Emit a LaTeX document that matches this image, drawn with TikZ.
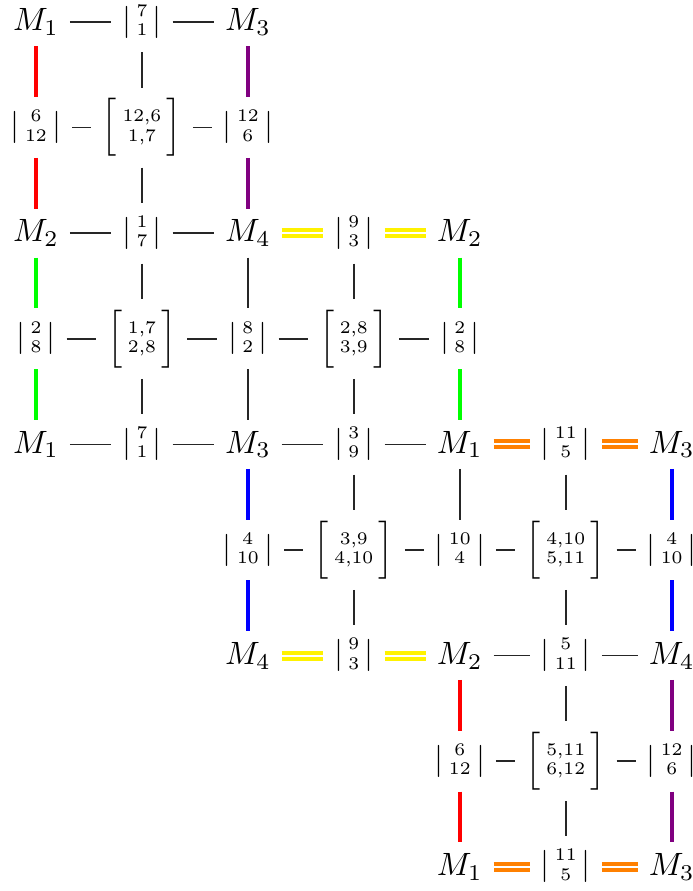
\documentclass[tikz,border=0pt]{standalone}
\usepackage{amsmath,amssymb}
\usepackage{xcolor}
\usepackage{tikz}
\usetikzlibrary{positioning}
\newcommand{\digitstack}[2]{\vcenter{\hbox{\fontsize{5.5}{6}\selectfont\begin{tabular}{@{}c@{}}#1\\#2\end{tabular}}}}
\newcommand{\barpair}[2]{\lvert\,\digitstack{#1}{#2}\,\rvert}
\newcommand{\brackpair}[2]{\Bigl[\,\digitstack{#1}{#2}\,\Bigr]}

\begin{document}
\begin{tikzpicture}[
    cell/.style={inner sep=3.2pt},
    link/.style={draw=black!85, line width=0.45pt},
    seam/.style={line width=1.25pt},
    glue/.style={line width=1.2pt, double=white, double distance=0.65pt}
]
\useasboundingbox (-0.392,0.240) rectangle (7.161,-9.472);

\node[cell] (m1a)   at (0,0)      {$M_1$};
\node[cell] (c71a)  at (1.155,0)  {$\barpair{7}{1}$};
\node[cell] (m3a)   at (2.31,0)   {$M_3$};

\node[cell] (c612a) at (0,-1.151)     {$\barpair{6}{12}$};
\node[cell] (s1)    at (1.155,-1.151) {$\brackpair{12,6}{1,7}$};
\node[cell] (c126a) at (2.31,-1.151)  {$\barpair{12}{6}$};

\node[cell] (m2a)   at (0,-2.302)     {$M_2$};
\node[cell] (c17)   at (1.155,-2.302) {$\barpair{1}{7}$};
\node[cell] (m4a)   at (2.31,-2.302)  {$M_4$};
\node[cell] (c93a)  at (3.465,-2.302) {$\barpair{9}{3}$};
\node[cell] (m2b)   at (4.62,-2.302)  {$M_2$};

\node[cell] (c28a)  at (0,-3.453)     {$\barpair{2}{8}$};
\node[cell] (s2)    at (1.155,-3.453) {$\brackpair{1,7}{2,8}$};
\node[cell] (c82)   at (2.31,-3.453)  {$\barpair{8}{2}$};
\node[cell] (s3)    at (3.465,-3.453) {$\brackpair{2,8}{3,9}$};
\node[cell] (c28b)  at (4.62,-3.453)  {$\barpair{2}{8}$};

\node[cell] (m1b)   at (0,-4.604)     {$M_1$};
\node[cell] (c71b)  at (1.155,-4.604) {$\barpair{7}{1}$};
\node[cell] (m3b)   at (2.31,-4.604)  {$M_3$};
\node[cell] (c39)   at (3.465,-4.604) {$\barpair{3}{9}$};
\node[cell] (m1c)   at (4.62,-4.604)  {$M_1$};
\node[cell] (c115a) at (5.775,-4.604) {$\barpair{11}{5}$};
\node[cell] (m3c)   at (6.93,-4.604)  {$M_3$};

\node[cell] (c410a) at (2.31,-5.755)  {$\barpair{4}{10}$};
\node[cell] (s4)    at (3.465,-5.755) {$\brackpair{3,9}{4,10}$};
\node[cell] (c104)  at (4.62,-5.755)  {$\barpair{10}{4}$};
\node[cell] (s5)    at (5.775,-5.755) {$\brackpair{4,10}{5,11}$};
\node[cell] (c410b) at (6.93,-5.755)  {$\barpair{4}{10}$};

\node[cell] (m4b)   at (2.31,-6.906)  {$M_4$};
\node[cell] (c93b)  at (3.465,-6.906) {$\barpair{9}{3}$};
\node[cell] (m2c)   at (4.62,-6.906)  {$M_2$};
\node[cell] (c511)  at (5.775,-6.906) {$\barpair{5}{11}$};
\node[cell] (m4c)   at (6.93,-6.906)  {$M_4$};

\node[cell] (c612b) at (4.62,-8.057)  {$\barpair{6}{12}$};
\node[cell] (s6)    at (5.775,-8.057) {$\brackpair{5,11}{6,12}$};
\node[cell] (c126b) at (6.93,-8.057)  {$\barpair{12}{6}$};

\node[cell] (m1d)   at (4.62,-9.208)  {$M_1$};
\node[cell] (c115b) at (5.775,-9.208) {$\barpair{11}{5}$};
\node[cell] (m3d)   at (6.93,-9.208)  {$M_3$};

% horizontal
\draw[link] (m1a) -- (c71a);
\draw[link] (c71a) -- (m3a);
\draw[link] (c612a) -- (s1);
\draw[link] (s1) -- (c126a);
\draw[link] (m2a) -- (c17);
\draw[link] (c17) -- (m4a);
\draw[glue, yellow] (m4a) -- (c93a);
\draw[glue, yellow] (c93a) -- (m2b);
\draw[link] (c28a) -- (s2);
\draw[link] (s2) -- (c82);
\draw[link] (c82) -- (s3);
\draw[link] (s3) -- (c28b);
\draw[link] (m1b) -- (c71b);
\draw[link] (c71b) -- (m3b);
\draw[link] (m3b) -- (c39);
\draw[link] (c39) -- (m1c);
\draw[glue, orange] (m1c) -- (c115a);
\draw[glue, orange] (c115a) -- (m3c);
\draw[link] (c410a) -- (s4);
\draw[link] (s4) -- (c104);
\draw[link] (c104) -- (s5);
\draw[link] (s5) -- (c410b);
\draw[glue, yellow] (m4b) -- (c93b);
\draw[glue, yellow] (c93b) -- (m2c);
\draw[link] (m2c) -- (c511);
\draw[link] (c511) -- (m4c);
\draw[link] (c612b) -- (s6);
\draw[link] (s6) -- (c126b);
\draw[glue, orange] (m1d) -- (c115b);
\draw[glue, orange] (c115b) -- (m3d);

% vertical
\draw[seam, red] (m1a) -- (c612a);
\draw[seam, red] (c612a) -- (m2a);
\draw[seam, green] (m2a) -- (c28a);
\draw[seam, green] (c28a) -- (m1b);
\draw[link] (c71a) -- (s1);
\draw[link] (s1) -- (c17);
\draw[link] (c17) -- (s2);
\draw[link] (s2) -- (c71b);
\draw[seam, violet] (m3a) -- (c126a);
\draw[seam, violet] (c126a) -- (m4a);
\draw[link] (m4a) -- (c82);
\draw[link] (c82) -- (m3b);
\draw[seam, blue] (m3b) -- (c410a);
\draw[seam, blue] (c410a) -- (m4b);
\draw[link] (c93a) -- (s3);
\draw[link] (s3) -- (c39);
\draw[link] (c39) -- (s4);
\draw[link] (s4) -- (c93b);
\draw[seam, green] (m2b) -- (c28b);
\draw[seam, green] (c28b) -- (m1c);
\draw[link] (m1c) -- (c104);
\draw[seam, red] (m2c) -- (c612b);
\draw[seam, red] (c612b) -- (m1d);
\draw[link] (c115a) -- (s5);
\draw[link] (s5) -- (c511);
\draw[link] (c511) -- (s6);
\draw[link] (s6) -- (c115b);
\draw[seam, blue] (m3c) -- (c410b);
\draw[seam, blue] (c410b) -- (m4c);
\draw[seam, violet] (m4c) -- (c126b);
\draw[seam, violet] (c126b) -- (m3d);
\end{tikzpicture}
\end{document}
